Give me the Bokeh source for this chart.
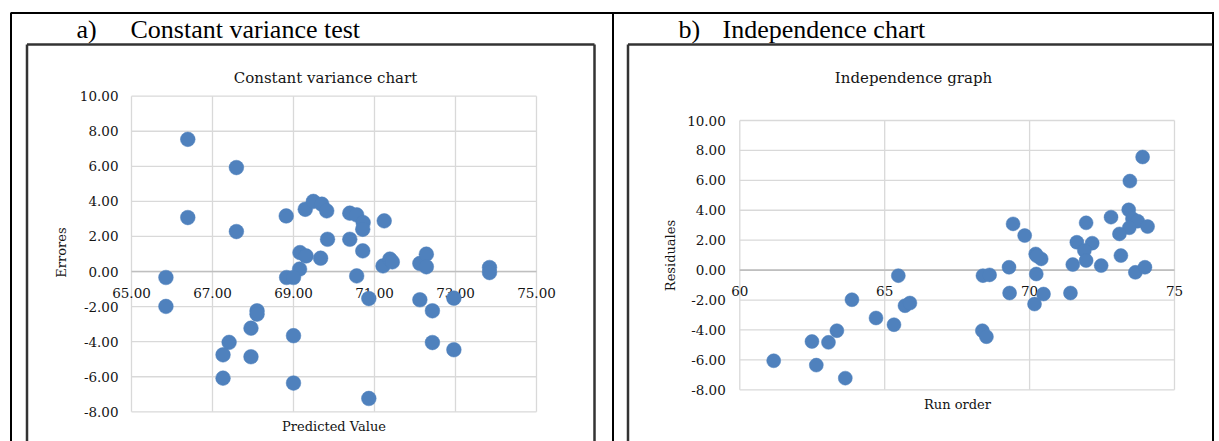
from bokeh.plotting import figure
from bokeh.models import Range1d
from bokeh.core.properties import value
from bokeh.embed import file_html
from bokeh.resources import INLINE

# ---------------- data ----------------
a_pred = [66.39, 67.59, 66.39, 67.59, 68.82, 69.29, 69.49, 69.70, 69.82, 70.39,
          70.56, 70.72, 70.71, 71.24, 69.84, 70.39, 70.71, 69.67, 69.16, 69.31,
          69.15, 70.56, 71.21, 71.38, 71.44, 72.12, 72.28, 72.28, 73.84, 73.84,
          70.86, 72.12, 72.43, 72.96, 72.43, 72.96, 70.86, 65.85, 65.85, 68.10,
          68.10, 67.95, 67.41, 67.26, 67.95, 67.26, 69.00, 69.00, 68.83, 69.00]
a_err = [7.54, 5.93, 3.08, 2.28, 3.17, 3.55, 4.00, 3.84, 3.46, 3.33,
         3.23, 2.79, 2.41, 2.89, 1.84, 1.84, 1.18, 0.76, 1.08, 0.89,
         0.14, -0.25, 0.32, 0.71, 0.55, 0.46, 0.99, 0.27, 0.23, -0.06,
         -1.54, -1.61, -2.24, -1.52, -4.05, -4.46, -7.24, -0.34, -1.99, -2.24,
         -2.43, -3.23, -4.04, -4.75, -4.86, -6.08, -3.66, -6.36, -0.34, -0.34]

b_run = [73.90, 73.46, 73.42, 72.81, 73.55, 73.73, 74.07, 71.95, 73.44, 73.10,
         69.43, 69.83, 71.63, 72.16, 70.21, 70.40, 70.25, 71.89, 71.95, 71.49,
         72.47, 73.15, 73.65, 73.98, 69.29, 70.23, 68.39, 68.62, 65.47, 69.31,
         70.48, 71.41, 70.17, 65.70, 65.87, 68.37, 68.51, 61.17, 62.49, 62.64,
         63.06, 63.35, 63.87, 63.64, 64.70, 65.32]
b_res = [7.56, 5.95, 4.03, 3.54, 3.43, 3.27, 2.91, 3.16, 2.83, 2.42,
         3.09, 2.31, 1.86, 1.80, 1.08, 0.75, 0.95, 1.31, 0.64, 0.37,
         0.30, 0.97, -0.15, 0.19, 0.19, -0.26, -0.37, -0.32, -0.37, -1.53,
         -1.60, -1.53, -2.27, -2.38, -2.20, -4.05, -4.45, -6.06, -4.77, -6.35,
         -4.83, -4.05, -1.98, -7.22, -3.20, -3.65]

a_x_ticks = [65, 67, 69, 71, 73, 75]
a_x_labels = ["65.00", "67.00", "69.00", "71.00", "73.00", "75.00"]
b_x_ticks = [60, 65, 70, 75]
b_x_labels = ["60", "65", "70", "75"]
y_ticks = [-8, -6, -4, -2, 0, 2, 4, 6, 8, 10]
y_labels = ["-8.00", "-6.00", "-4.00", "-2.00", "0.00", "2.00", "4.00", "6.00", "8.00", "10.00"]

header_a = ["a)", "Constant variance test"]
header_b = ["b)", "Independence chart"]
title_a, title_b = "Constant variance chart", "Independence graph"
xlab_a, ylab_a = "Predicted Value", "Errores"
xlab_b, ylab_b = "Run order", "Residuales"

# ---------------- layout (page pixels) ----------------
W, H = 1219, 441
L, T = 0, 0
R, B = L + W, T + H

SERIF = value("DejaVu Serif")
HEAD = value("Liberation Serif")
BLUE = "#4f81bd"
GRID = "#d9d9d9"
AXIS = "#bfbfbf"
TXT = "#141414"


def rng(v0, p0, v1, p1, lo, hi):
    s = (v1 - v0) / (p1 - p0)
    return Range1d(v0 + (lo - p0) * s, v0 + (hi - p0) * s)


p = figure(width=W, height=H, output_backend="svg", toolbar_location=None,
           x_axis_location=None, y_axis_location=None, min_border=0,
           x_range=Range1d(L, R), y_range=Range1d(B, T))
p.outline_line_color = None
p.background_fill_color = "white"
p.border_fill_color = "white"
p.grid.visible = False
p.xgrid.grid_line_color = None
p.ygrid.grid_line_color = None

# chart scales: value -> page pixel
p.extra_x_ranges = {
    "xa": rng(65, 131.0, 75, 536.0, L, R),
    "xb": rng(60, 739.3, 75, 1174.0, L, R),
}
p.extra_y_ranges = {
    "ya": rng(10, 95.7, -8, 411.3, B, T),
    "yb": rng(10, 120.0, -8, 389.3, B, T),
}

# ---------------- table + chart frames ----------------
p.segment(x0=[10, 10.5, 612.5, 1212.5], y0=[12.5, 12.5, 12.5, 12.5],
          x1=[1213.5, 10.5, 612.5, 1212.5], y1=[12.5, B, B, B],
          line_color="black", line_width=2)
p.segment(x0=[26.5, 26.5, 594, 627.5, 627.5], y0=[44, 44, 44, 44, 44],
          x1=[594, 26.5, 594, 1212, 627.5], y1=[44, B, B, 44, B],
          line_color="#333333", line_width=2.5)

# headers
p.text(x=[76, 130, 678, 722], y=[29, 29, 29, 29],
       text=[header_a[0], header_a[1], header_b[0], header_b[1]],
       text_font=HEAD, text_font_size=value("26px"), text_color="black",
       text_baseline="alphabetic", text_align="left")


def chart(xr, yr, xticks, xlabels, px, py, size, ylab_off, xlab_off):
    lo_x, hi_x = min(xticks), max(xticks)
    lo_y, hi_y = min(y_ticks), max(y_ticks)
    # grid
    p.segment(x0=xticks, y0=[lo_y] * len(xticks), x1=xticks, y1=[hi_y] * len(xticks),
              x_range_name=xr, y_range_name=yr, line_color=GRID, line_width=1.3)
    p.segment(x0=[lo_x] * len(y_ticks), y0=y_ticks, x1=[hi_x] * len(y_ticks), y1=y_ticks,
              x_range_name=xr, y_range_name=yr, line_color=GRID, line_width=1.3)
    # axis line at zero
    p.segment(x0=[lo_x], y0=[0], x1=[hi_x], y1=[0],
              x_range_name=xr, y_range_name=yr, line_color=AXIS, line_width=1.6)
    # tick labels
    p.text(x=[lo_x] * len(y_ticks), y=y_ticks, text=y_labels,
           x_range_name=xr, y_range_name=yr, x_offset=ylab_off,
           text_font=SERIF, text_font_size=value("13.5px"), text_color=TXT,
           text_align="right", text_baseline="middle")
    p.text(x=xticks, y=[0] * len(xticks), text=xlabels,
           x_range_name=xr, y_range_name=yr, y_offset=xlab_off,
           text_font=SERIF, text_font_size=value("13.5px"), text_color=TXT,
           text_align="center", text_baseline="middle")
    # points
    p.scatter(px, py, x_range_name=xr, y_range_name=yr, size=size,
              fill_color=BLUE, line_color=BLUE, line_width=0.5)


chart("xa", "ya", a_x_ticks, a_x_labels, a_pred, a_err, 14.7, -13, 21)
chart("xb", "yb", b_x_ticks, b_x_labels, b_run, b_res, 14, -14, 20.5)

# titles and axis titles (page coordinates)
p.text(x=[325, 913], y=[77, 77], text=[title_a, title_b],
       text_font=SERIF, text_font_size=value("15px"), text_color=TXT,
       text_align="center", text_baseline="middle")
p.text(x=[333.5, 957], y=[426, 404], text=[xlab_a, xlab_b],
       text_font=SERIF, text_font_size=value("13px"), text_color=TXT,
       text_align="center", text_baseline="middle")
p.text(x=[61, 670], y=[252, 255], text=[ylab_a, ylab_b], angle=1.5707963,
       text_font=SERIF, text_font_size=value("13px"), text_color=TXT,
       text_align="center", text_baseline="middle")

open("out.html", "w").write(file_html(p, INLINE))
